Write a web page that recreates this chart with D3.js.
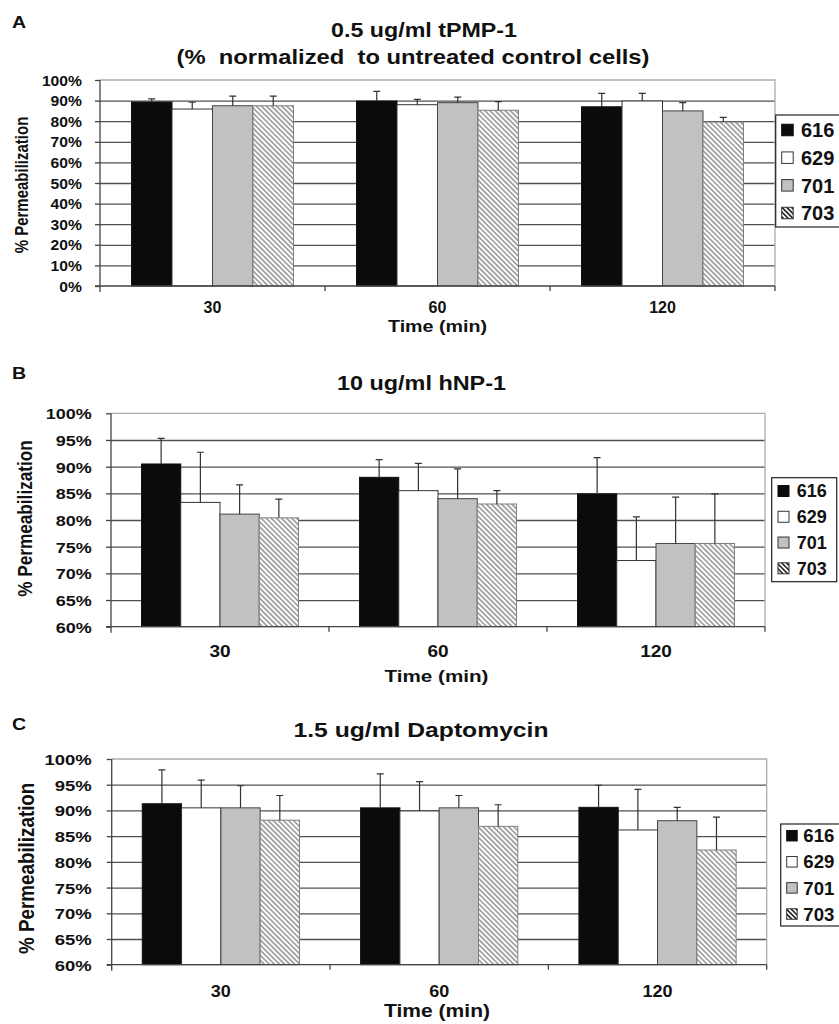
<!DOCTYPE html>
<html>
<head>
<meta charset="utf-8">
<script src="https://cdn.jsdelivr.net/npm/d3@7"></script>
<style>
  body { margin: 0; background: #fff; }
  svg { display: block; }
  text { font-family: "Liberation Sans", Arial, sans-serif; font-weight: bold; fill: #111; white-space: pre; }
</style>
</head>
<body>
<svg id="chart" width="839" height="1024"></svg>
<script>
// ---- data ----
const categories = ["30", "60", "120"];          // time points (min)
const strains = ["616", "629", "701", "703"];

const tpmpTitle = ["0.5 ug/ml tPMP-1", "(%  normalized  to untreated control cells)"];
const hnpTitle = ["10 ug/ml hNP-1"];
const dapTitle = ["1.5 ug/ml Daptomycin"];
const xTitle = "Time (min)";
const yTitle = "% Permeabilization";

const tpmpTicks = [0, 10, 20, 30, 40, 50, 60, 70, 80, 90, 100];
const hnpTicks = [60, 65, 70, 75, 80, 85, 90, 95, 100];
const dapTicks = [60, 65, 70, 75, 80, 85, 90, 95, 100];

// rows follow strains, columns follow categories
const tpmpMeans = [
  [89.3, 89.8, 87.0],
  [85.9, 88.0, 89.8],
  [87.5, 89.0, 85.0],
  [87.5, 85.3, 79.6]
];
const tpmpErrors = [
  [1.5, 4.7, 6.5],
  [3.3, 2.6, 3.7],
  [4.7, 2.7, 4.0],
  [4.7, 4.2, 2.3]
];

const hnpMeans = [
  [90.5, 88.0, 84.9],
  [83.3, 85.5, 72.4],
  [81.1, 84.0, 75.6],
  [80.4, 83.0, 75.6]
];
const hnpErrors = [
  [4.8, 3.3, 6.8],
  [9.4, 5.1, 8.2],
  [5.5, 5.6, 8.7],
  [3.5, 2.5, 9.3]
];

const dapMeans = [
  [91.3, 90.5, 90.6],
  [90.5, 89.9, 86.2],
  [90.5, 90.5, 88.0],
  [88.1, 86.9, 82.3]
];
const dapErrors = [
  [6.6, 6.6, 4.3],
  [5.4, 5.7, 7.9],
  [4.3, 2.4, 2.6],
  [4.8, 4.2, 6.4]
];

// ---- drawing ----
const svg = d3.select("#chart");
const defs = svg.append("defs");

function hatch(id, color, size, width) {
  const p = defs.append("pattern")
    .attr("id", id)
    .attr("patternUnits", "userSpaceOnUse")
    .attr("width", size).attr("height", size)
    .attr("patternTransform", "rotate(-45)");
  p.append("rect").attr("width", size).attr("height", size).attr("fill", "#fff");
  p.append("line")
    .attr("x1", size / 2).attr("x2", size / 2)
    .attr("y1", 0).attr("y2", size)
    .attr("stroke", color).attr("stroke-width", width);
}
hatch("hatchBar", "#9d9d9d", 3.6, 1.7);
hatch("hatchKey", "#111", 3.4, 1.5);

const barFill = d3.scaleOrdinal().domain(strains).range(["#0b0b0b", "#ffffff", "#c1c1c1", "url(#hatchBar)"]);
const keyFill = d3.scaleOrdinal().domain(strains).range(["#0b0b0b", "#ffffff", "#c1c1c1", "url(#hatchKey)"]);
const barStroke = d3.scaleOrdinal().domain(strains).range(["#111", "#333", "#444", "#808080"]);

// text stretched horizontally by sx around its anchor
function stext(g, str, x, y, size, sx, anchor) {
  return g.append("text")
    .attr("transform", `translate(${x},${y}) scale(${sx},1)`)
    .attr("text-anchor", anchor || "middle")
    .style("font-size", size + "px")
    .text(str);
}
// text fitted to a given width, centred on cx
function ftext(g, str, cx, y, size, width) {
  return g.append("text")
    .attr("x", cx - width / 2).attr("y", y)
    .attr("textLength", width)
    .attr("lengthAdjust", "spacingAndGlyphs")
    .style("font-size", size + "px")
    .text(str);
}

const panels = [
  {
    letter: "A", letterY: 28,
    titles: [
      { text: tpmpTitle[0], cx: 424, y: 36.5, size: 21, width: 186 },
      { text: tpmpTitle[1], cx: 413, y: 64, size: 21, width: 473 }
    ],
    left: 100, right: 775, top: 80, bottom: 286,
    ticks: tpmpTicks, tickRight: 82, tickSize: 14, tickSx: 1.12,
    means: tpmpMeans, errors: tpmpErrors,
    yLab: { cx: 21.7, cy: 185, size: 15 },
    xTickY: 313, xTickSize: 16, xTickSx: 1.0,
    xLab: { cx: 437.5, y: 332, size: 16, width: 99 },
    legend: { x: 775.7, y: 115, w: 64, h: 112, first: 130, last: 213, sw: 11.5, swx: 781.7, tx: 801, size: 20 }
  },
  {
    letter: "B", letterY: 379,
    titles: [{ text: hnpTitle[0], cx: 421.5, y: 390, size: 20, width: 169 }],
    left: 111, right: 765, top: 413.3, bottom: 626.7,
    ticks: hnpTicks, tickRight: 91.7, tickSize: 15, tickSx: 1.2,
    means: hnpMeans, errors: hnpErrors,
    yLab: { cx: 24.2, cy: 518.5, size: 17.2 },
    xTickY: 656.5, xTickSize: 17, xTickSx: 1.12,
    xLab: { cx: 436.5, y: 682, size: 17, width: 104 },
    legend: { x: 771.7, y: 477.7, w: 65, h: 104, first: 491, last: 568.3, sw: 11, swx: 778, tx: 796.7, size: 18 }
  },
  {
    letter: "C", letterY: 730,
    titles: [{ text: dapTitle[0], cx: 421, y: 736.7, size: 21, width: 255 }],
    left: 111.7, right: 766.7, top: 759, bottom: 964.7,
    ticks: dapTicks, tickRight: 91.7, tickSize: 15.4, tickSx: 1.2,
    means: dapMeans, errors: dapErrors,
    yLab: { cx: 25.8, cy: 868.3, size: 18.8 },
    xTickY: 997, xTickSize: 17, xTickSx: 1.06,
    xLab: { cx: 437, y: 1017, size: 17.5, width: 106 },
    legend: { x: 780.7, y: 824, w: 62, h: 102, first: 835.7, last: 914, sw: 10.5, swx: 786.7, tx: 803.3, size: 18.6 }
  }
];

panels.forEach(drawPanel);

function drawPanel(p) {
  const g = svg.append("g");
  const width = p.right - p.left;

  const x0 = d3.scaleBand().domain(categories).range([p.left, p.right]).padding(0);
  const bw = x0.bandwidth();
  const x1 = d3.scaleBand().domain(strains).range([bw * 0.14, bw * 0.86]).padding(0);
  const y = d3.scaleLinear().domain(d3.extent(p.ticks)).range([p.bottom, p.top]);

  // panel letter and title
  stext(g, p.letter, 12, p.letterY, 17, 1.15, "start");
  p.titles.forEach(t => ftext(g, t.text, t.cx, t.y, t.size, t.width));

  // horizontal gridlines
  g.append("g")
    .attr("transform", `translate(${p.left},0)`)
    .call(d3.axisLeft(y).tickValues(p.ticks.slice(1, -1)).tickSize(-width).tickFormat(""))
    .call(a => a.select(".domain").remove())
    .call(a => a.selectAll("line").attr("stroke", "#505050").attr("stroke-width", 1.3));

  // plot frame: top and right edges
  g.append("path")
    .attr("d", `M${p.left},${y(p.ticks[p.ticks.length - 1])}H${p.right}V${p.bottom}`)
    .attr("fill", "none").attr("stroke", "#adadad").attr("stroke-width", 1.3);

  // bars
  const rows = [];
  strains.forEach((s, si) => categories.forEach((c, ci) => {
    rows.push({ strain: s, cat: c, value: p.means[si][ci], err: p.errors[si][ci] });
  }));

  g.append("g").selectAll("rect").data(rows).join("rect")
    .attr("x", d => x0(d.cat) + x1(d.strain))
    .attr("y", d => y(d.value))
    .attr("width", x1.bandwidth())
    .attr("height", d => y(y.domain()[0]) - y(d.value))
    .attr("fill", d => barFill(d.strain))
    .attr("stroke", d => barStroke(d.strain))
    .attr("stroke-width", 1);

  // error bars (upper side only)
  const eb = g.append("g").attr("stroke", "#333").attr("stroke-width", 1.2).attr("fill", "none");
  eb.selectAll("path").data(rows).join("path")
    .attr("d", d => {
      const cx = x0(d.cat) + x1(d.strain) + x1.bandwidth() / 2;
      const yt = y(d.value + d.err);
      return `M${cx},${y(d.value)}V${yt}M${cx - 3.5},${yt}H${cx + 3.5}`;
    });

  // y axis with outward ticks and labels
  const ya = g.append("g")
    .attr("transform", `translate(${p.left},0)`)
    .call(d3.axisLeft(y).tickValues(p.ticks).tickSize(5).tickSizeOuter(0).tickFormat(d => d + "%"));
  ya.select(".domain").attr("stroke", "#444").attr("stroke-width", 1.3)
    .attr("d", `M0,${p.top}V${p.bottom + 6}`);
  ya.selectAll("line").attr("stroke", "#444").attr("stroke-width", 1.3);
  ya.selectAll("text")
    .attr("x", null).attr("dy", "0.36em")
    .attr("transform", `translate(${p.tickRight - p.left},0) scale(${p.tickSx},1)`)
    .attr("text-anchor", "end")
    .attr("fill", "#111")
    .style("font-size", p.tickSize + "px")
    .style("font-family", null);

  // x axis: baseline, boundary ticks, centred category labels
  const xa = g.append("g")
    .attr("transform", `translate(0,${p.bottom})`)
    .call(d3.axisBottom(x0).tickSize(0).tickFormat(d => d));
  xa.select(".domain").attr("stroke", "#444").attr("stroke-width", 1.3)
    .attr("d", `M${p.left - 5},0H${p.right}`);
  xa.selectAll("text")
    .attr("y", null).attr("dy", null)
    .attr("transform", `translate(0,${p.xTickY - p.bottom}) scale(${p.xTickSx},1)`)
    .attr("fill", "#111")
    .style("font-size", p.xTickSize + "px")
    .style("font-family", null);
  const bounds = categories.slice(1).map(c => x0(c)).concat([p.right]);
  g.append("g").selectAll("line").data(bounds).join("line")
    .attr("x1", d => d).attr("x2", d => d)
    .attr("y1", p.bottom).attr("y2", p.bottom + 5)
    .attr("stroke", "#444").attr("stroke-width", 1.3);

  // axis titles
  ftext(g, xTitle, p.xLab.cx, p.xLab.y, p.xLab.size, p.xLab.width);
  g.append("text")
    .attr("transform", `translate(${p.yLab.cx},${p.yLab.cy}) scale(1.18,1) rotate(-90)`)
    .attr("text-anchor", "middle")
    .attr("dy", "0.36em")
    .style("font-size", p.yLab.size + "px")
    .text(yTitle);

  // legend
  const L = p.legend;
  const lg = g.append("g");
  lg.append("rect")
    .attr("x", L.x).attr("y", L.y).attr("width", L.w).attr("height", L.h)
    .attr("fill", "#fff").attr("stroke", "#222").attr("stroke-width", 1.2);
  const ky = d3.scalePoint().domain(strains).range([L.first, L.last]);
  const items = lg.selectAll("g.key").data(strains).join("g").attr("class", "key");
  items.append("rect")
    .attr("x", L.swx).attr("y", d => ky(d) - L.sw / 2)
    .attr("width", L.sw).attr("height", L.sw)
    .attr("fill", d => keyFill(d))
    .attr("stroke", d => d === "616" ? "#0b0b0b" : "#333")
    .attr("stroke-width", 1);
  items.append("text")
    .attr("x", L.tx).attr("y", d => ky(d)).attr("dy", "0.36em")
    .style("font-size", L.size + "px")
    .text(d => d);
}
</script>
</body>
</html>
